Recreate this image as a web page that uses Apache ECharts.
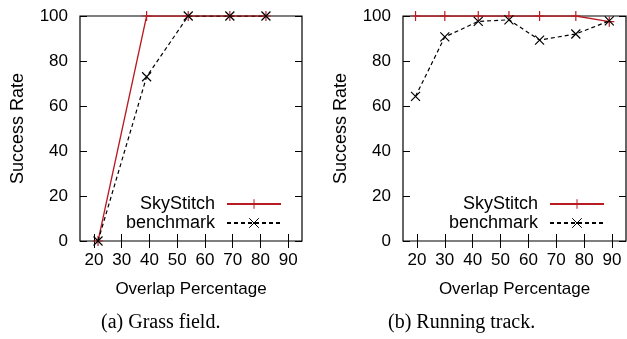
<!DOCTYPE html>
<html>
<head>
<meta charset="utf-8">
<script src="https://cdn.jsdelivr.net/npm/echarts@6/dist/echarts.min.js"></script>
<style>html,body{margin:0;padding:0;background:#fff}#c{width:627px;height:339px}</style>
</head>
<body>
<div id="c"></div>
<script>
const xTicks = [20, 30, 40, 50, 60, 70, 80, 90];
const yTicks = [0, 20, 40, 60, 80, 100];
// (a) Grass field
const grassX = [21.5, 39, 54, 69, 82];
const grassSky = [0, 100, 100, 100, 100];
const grassBench = [0, 73, 100, 100, 100];
// (b) Running track
const trackX = [19.5, 30, 42, 53, 64, 77, 89];
const trackSky = [100, 100, 100, 100, 100, 100, 97.5];
const trackBench = [64.3, 90.7, 97.6, 98.3, 89.3, 92, 97.8];
const captions = ['(a) Grass field.', '(b) Running track.'];

const RED = '#b81c22';
const FONT = 'Liberation Sans';
const PLUS = 'path://M0,5L10,5M5,0L5,10';
const CROSS = 'path://M0,0L10,10M10,0L0,10';

function pairs(xs, ys) { return xs.map((x, i) => [x, ys[i]]); }

const grids = [
  { left: 80, top: 16, width: 222, height: 225, show: true, borderColor: '#000', borderWidth: 1.2 },
  { left: 403, top: 16, width: 223, height: 225, show: true, borderColor: '#000', borderWidth: 1.2 }
];

const xAxes = [], yAxes = [];
[0, 1].forEach(g => {
  xAxes.push({
    type: 'value', gridIndex: g, min: 15, max: 95, position: 'bottom',
    name: 'Overlap Percentage', nameLocation: 'middle', nameGap: 40,
    nameTextStyle: { fontFamily: FONT, fontSize: 17, color: '#000' },
    axisLine: { show: false }, splitLine: { show: false },
    axisTick: { inside: true, length: 7, customValues: xTicks, lineStyle: { color: '#000' } },
    axisLabel: { customValues: xTicks, margin: 11, fontFamily: FONT, fontSize: 17, color: '#000' }
  });
  xAxes.push({
    type: 'value', gridIndex: g, min: 15, max: 95, position: 'top',
    axisLine: { show: false }, splitLine: { show: false },
    axisTick: { inside: true, length: 7, customValues: xTicks, lineStyle: { color: '#000' } },
    axisLabel: { show: false }
  });
  yAxes.push({
    type: 'value', gridIndex: g, min: 0, max: 100, interval: 20, position: 'left',
    name: 'Success Rate', nameLocation: 'middle', nameGap: 53,
    nameTextStyle: { fontFamily: FONT, fontSize: 18, color: '#000' },
    axisLine: { show: false }, splitLine: { show: false },
    axisTick: { inside: true, length: 7, lineStyle: { color: '#000' } },
    axisLabel: { margin: 12, fontFamily: FONT, fontSize: 17, color: '#000', customValues: yTicks }
  });
  yAxes.push({
    type: 'value', gridIndex: g, min: 0, max: 100, interval: 20, position: 'right',
    axisLine: { show: false }, splitLine: { show: false },
    axisTick: { inside: true, length: 7, lineStyle: { color: '#000' } },
    axisLabel: { show: false }
  });
});

function sky(data, g) {
  return {
    type: 'line', name: 'SkyStitch', xAxisIndex: g * 2, yAxisIndex: g * 2,
    data: data, symbol: PLUS, symbolSize: 10, z: 3,
    lineStyle: { color: RED, width: 1.3 },
    itemStyle: { color: RED, borderColor: RED, borderWidth: 1.2 },
    emphasis: { disabled: true }, animation: false
  };
}
function bench(data, g) {
  return {
    type: 'line', name: 'benchmark', xAxisIndex: g * 2, yAxisIndex: g * 2,
    data: data, symbol: CROSS, symbolSize: 9, z: 4,
    lineStyle: { color: '#000', width: 1.2, type: [4, 3] },
    itemStyle: { color: '#000', borderColor: '#000', borderWidth: 1.2 },
    emphasis: { disabled: true }, animation: false
  };
}

function legend(right) {
  return {
    orient: 'vertical', right: right, top: 195, padding: 0,
    align: 'right', itemWidth: 54, itemHeight: 12, itemGap: 1,
    selectedMode: false,
    itemStyle: { borderWidth: 1 },
    textStyle: { fontFamily: FONT, fontSize: 18, color: '#000', padding: [0, 7, 0, 0] },
    data: ['SkyStitch', 'benchmark']
  };
}

const chart = echarts.init(document.getElementById('c'));
chart.setOption({
  animation: false,
  backgroundColor: '#fff',
  grid: grids,
  xAxis: xAxes,
  yAxis: yAxes,
  legend: [legend(345), legend(22)],
  series: [
    sky(pairs(grassX, grassSky), 0), bench(pairs(grassX, grassBench), 0),
    sky(pairs(trackX, trackSky), 1), bench(pairs(trackX, trackBench), 1)
  ],
  graphic: [
    { type: 'text', left: 101, top: 313, style: { text: captions[0], fontFamily: 'Liberation Serif', fontSize: 20, fill: '#000' } },
    { type: 'text', left: 388, top: 313, style: { text: captions[1], fontFamily: 'Liberation Serif', fontSize: 20, fill: '#000' } }
  ]
});
</script>
</body>
</html>
